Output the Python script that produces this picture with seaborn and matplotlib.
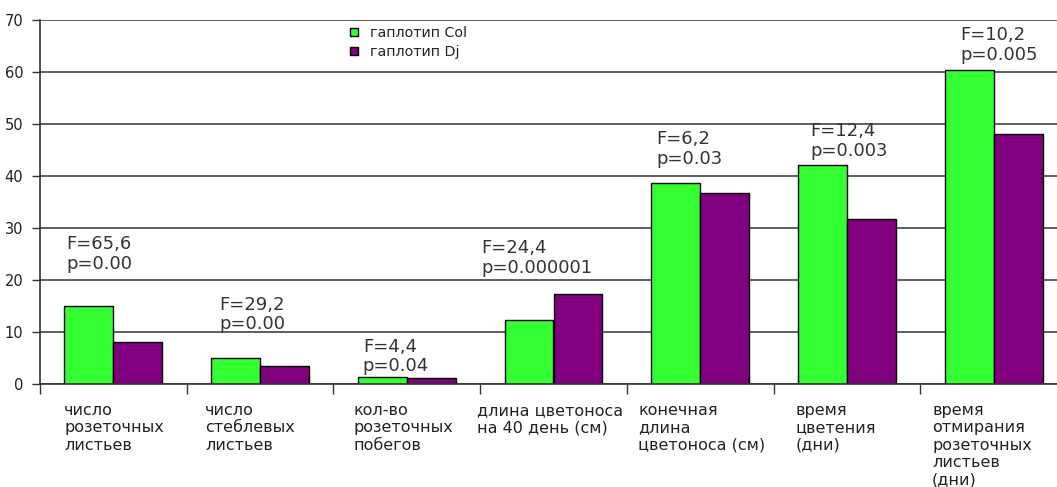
import matplotlib
matplotlib.use('Agg')
import matplotlib.pyplot as plt
from matplotlib.lines import Line2D
import seaborn as sns
import pandas as pd

# categories (x-axis labels)
categories = [
    "число\nрозеточных\nлистьев",
    "число\nстеблевых\nлистьев",
    "кол-во\nрозеточных\nпобегов",
    "длина цветоноса\nна 40 день (см)",
    "конечная\nдлина\nцветоноса (см)",
    "время\nцветения\n(дни)",
    "время\nотмирания\nрозеточных\nлистьев\n(дни)",
]
groups = ["гаплотип Col", "гаплотип Dj"]
col_values = [15.0, 5.0, 1.4, 12.3, 38.6, 42.1, 60.4]
dj_values = [8.1, 3.5, 1.1, 17.4, 36.8, 31.7, 48.0]
stats = ["F=65,6\np=0.00", "F=29,2\np=0.00", "F=4,4\np=0.04", "F=24,4\np=0.000001",
         "F=6,2\np=0.03", "F=12,4\np=0.003", "F=10,2\np=0.005"]
yticks = [0, 10, 20, 30, 40, 50, 60, 70]

# annotation / label placement (layout only)
ann_x = [-0.32, 0.72, 1.70, 2.51, 3.70, 4.75, 5.77]
ann_y = [28.6, 17.0, 8.9, 27.8, 48.8, 50.3, 68.8]
lab_dx = [-0.336, -0.375, -0.366, -0.521, -0.424, -0.353, -0.420]

colors = ["#33ff33", "#800080"]

df = pd.DataFrame({
    "cat": categories * 2,
    "group": [groups[0]] * len(categories) + [groups[1]] * len(categories),
    "value": col_values + dj_values,
})

sns.set_style("white")
plt.rcParams['font.family'] = ['DejaVu Sans']

W, H = 1057, 487
fig = plt.figure(figsize=(W / 100, H / 100), dpi=100)
ax = fig.add_axes([40 / W, (H - 384) / H, (1067 - 40) / W, (384 - 20) / H])

sns.barplot(data=df, x="cat", y="value", hue="group", palette=colors,
            width=2 / 3, edgecolor="black", linewidth=1, legend=False, ax=ax,
            saturation=1)

ax.set_xlim(-0.5, len(categories) - 0.5)
ax.set_ylim(0, 70)
ax.set_yticks(yticks)
ax.set_yticklabels([str(t) for t in yticks], fontsize=10.5, color="#222222")
ax.yaxis.grid(True, color="#333333", linewidth=1.1)
ax.set_axisbelow(True)
ax.set_xlabel("")
ax.set_ylabel("")

# tick marks at category boundaries, labels drawn as text
ax.set_xticks([i - 0.5 for i in range(len(categories) + 1)])
ax.set_xticklabels([])
ax.tick_params(axis="x", length=7, width=1, color="#333333", direction="out", bottom=True)
ax.tick_params(axis="y", length=6, width=1, color="#333333", direction="out", left=True, pad=6)

for s in ["top", "right"]:
    ax.spines[s].set_visible(False)
for s in ["left", "bottom"]:
    ax.spines[s].set_color("#333333")
    ax.spines[s].set_linewidth(1.2)

for i, lab in enumerate(categories):
    ax.text(i + lab_dx[i], -3.6, lab, ha="left", va="top",
            fontsize=11.5, color="#222222", linespacing=1.2, clip_on=False)

for x, y, s in zip(ann_x, ann_y, stats):
    ax.text(x, y, s, ha="left", va="top", fontsize=13, color="#333333", linespacing=1.1)

handles = [Line2D([], [], marker="s", linestyle="none", markersize=6,
                  markerfacecolor=c, markeredgecolor="black", markeredgewidth=1)
           for c in colors]
ax.legend(handles, groups, loc="upper left", bbox_to_anchor=(294 / 1027, 1.018),
          frameon=False, fontsize=10.3, handletextpad=0.6, labelspacing=0.3,
          handlelength=1.0)

fig.savefig("out.png", dpi=100)
